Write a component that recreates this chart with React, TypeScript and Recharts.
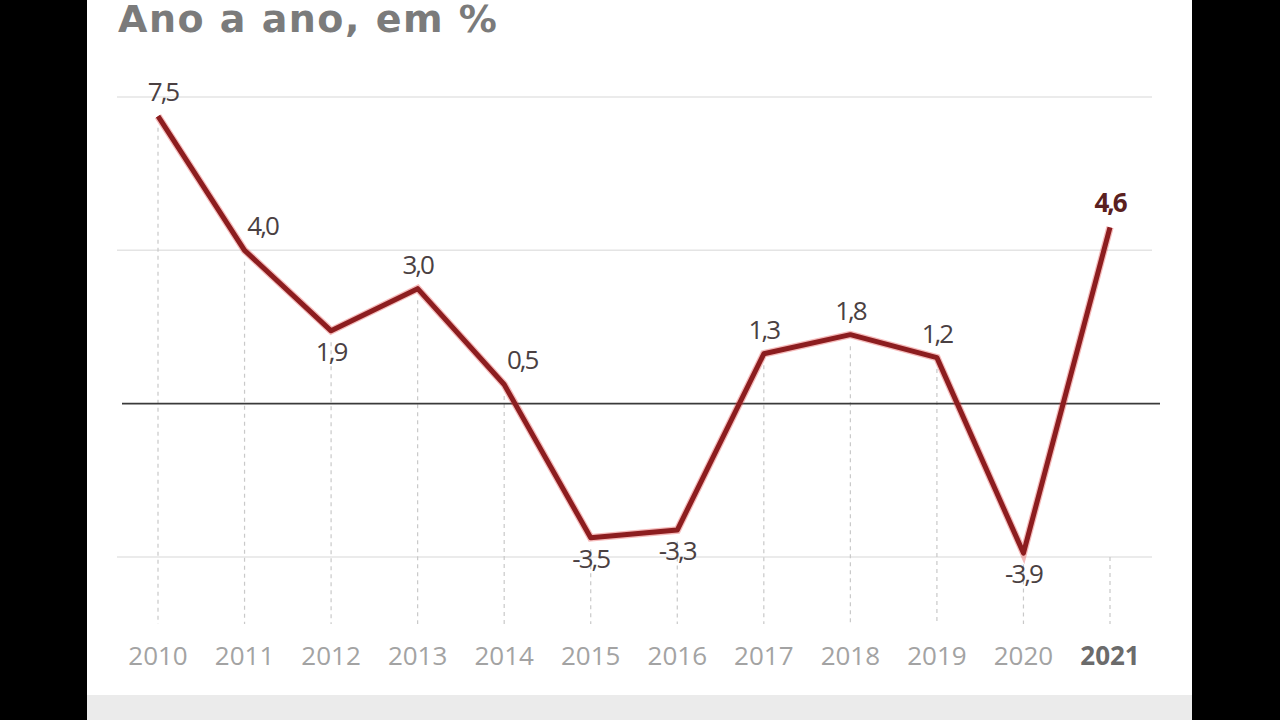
import {
  LineChart,
  Line,
  XAxis,
  YAxis,
  ReferenceLine,
} from "recharts";

const years = [
  "2010", "2011", "2012", "2013", "2014", "2015",
  "2016", "2017", "2018", "2019", "2020", "2021",
];

const growth = [7.5, 4.0, 1.9, 3.0, 0.5, -3.5, -3.3, 1.3, 1.8, 1.2, -3.9, 4.6];

const gridValues = [-4, 4, 8];

const Y_MIN = -5.75;
const Y_MAX = 8;

const data = years.map((year, i) => ({ year, value: growth[i] }));
const lastYear = years[years.length - 1];

const fmt = (v: number) => v.toFixed(1).replace(".", ",");

function PointLabel(props: any) {
  const { x, y, index, value } = props;
  const prev = index > 0 ? growth[index - 1] : null;
  const next = index < growth.length - 1 ? growth[index + 1] : null;
  const isMin =
    (prev === null || prev > value) && (next === null || next > value);
  const below = value < 0 || (isMin && index > 0);
  let dx = 0;
  if (!below && prev !== null && prev - value > 1) dx = 18;
  if (index === 0) dx = 5;
  const isLast = index === growth.length - 1;
  return (
    <text
      x={x + dx}
      y={below ? y + 30 : y - 15}
      textAnchor="middle"
      fontFamily="'Open Sans', sans-serif"
      fontSize={26}
      fontWeight={isLast ? 700 : 400}
      letterSpacing={-2}
      fill={isLast ? "#5a2020" : "#4a4042"}
    >
      {fmt(value)}
    </text>
  );
}

function YearTick(props: any) {
  const { x, y, payload } = props;
  const bold = payload.value === lastYear;
  return (
    <text
      x={x}
      y={y + 33}
      textAnchor="middle"
      fontFamily="'Open Sans', sans-serif"
      fontSize={26}
      fontWeight={bold ? 700 : 400}
      fill={bold ? "#6b6b6b" : "#a3a3a3"}
    >
      {payload.value}
    </text>
  );
}

function ZeroLine(props: any) {
  const { x1, x2, y1 } = props;
  return (
    <line
      x1={x1 + 5}
      x2={x2 + 8}
      y1={y1}
      y2={y1}
      stroke="#3a3a3a"
      strokeWidth={1.8}
    />
  );
}

export default function App() {
  return (
    <div
      style={{
        position: "fixed",
        left: 0,
        top: 0,
        width: 1280,
        height: 720,
        background: "#000",
        overflow: "hidden",
      }}
    >
      <div
        style={{
          position: "absolute",
          left: 87,
          top: 0,
          width: 1105,
          height: 695,
          background: "#fff",
        }}
      />
      <div
        style={{
          position: "absolute",
          left: 87,
          top: 695,
          width: 1105,
          height: 25,
          background: "#ebebeb",
        }}
      />
      <svg
        width={1280}
        height={60}
        style={{ position: "absolute", left: 0, top: 0 }}
      >
        <text
          x={118}
          y={32}
          fontFamily="'DejaVu Sans', sans-serif"
          fontWeight={700}
          fontSize={38}
          letterSpacing={1.5}
          fill="#7b7b7b"
        >
          Ano a ano, em %
        </text>
      </svg>
      <div style={{ position: "absolute", left: 0, top: 0 }}>
        <LineChart
          width={1280}
          height={720}
          data={data}
          margin={{ top: 97, right: 128, bottom: 56, left: 117 }}
        >
          <XAxis
            dataKey="year"
            axisLine={false}
            tickLine={false}
            height={40}
            interval={0}
            padding={{ left: 41, right: 42 }}
            tick={<YearTick />}
          />
          <YAxis
            hide
            domain={[Y_MIN, Y_MAX]}
            type="number"
            allowDataOverflow
          />
          {gridValues.map((v) => (
            <ReferenceLine
              key={v}
              y={v}
              stroke="#e4e4e4"
              strokeWidth={1.5}
            />
          ))}
          {data.map((d) => (
            <ReferenceLine
              key={d.year}
              segment={[
                { x: d.year, y: d.year === lastYear ? -4 : d.value - 0.3 },
                { x: d.year, y: Y_MIN },
              ]}
              stroke="#c9c9c9"
              strokeWidth={1.2}
              strokeDasharray="4 4"
            />
          ))}
          <ReferenceLine y={0} shape={<ZeroLine />} />
          <Line
            type="linear"
            dataKey="value"
            stroke="#e23a3a"
            strokeOpacity={0.35}
            strokeWidth={7.5}
            dot={false}
            activeDot={false}
            isAnimationActive={false}
          />
          <Line
            type="linear"
            dataKey="value"
            stroke="#8c1d1f"
            strokeWidth={5}
            strokeLinejoin="round"
            dot={false}
            activeDot={false}
            isAnimationActive={false}
            label={<PointLabel />}
          />
        </LineChart>
      </div>
    </div>
  );
}
